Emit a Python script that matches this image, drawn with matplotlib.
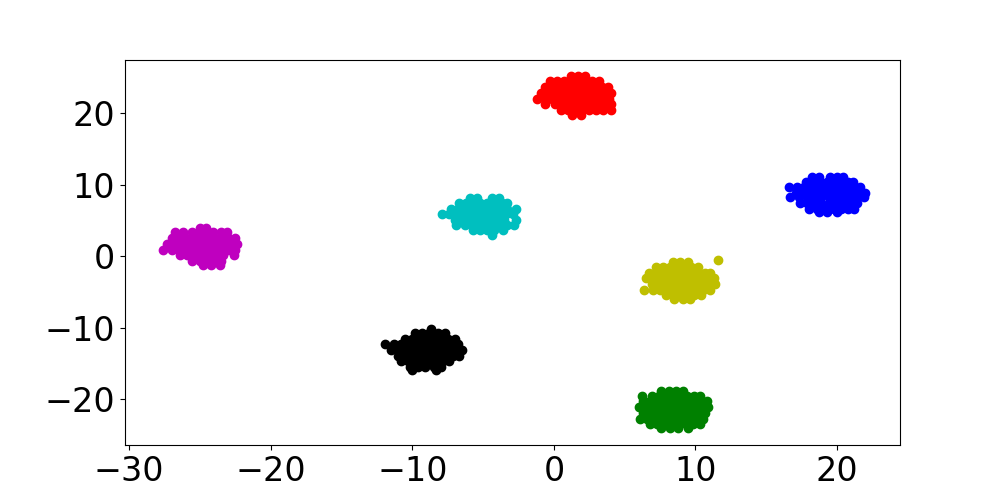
# -*- coding: utf-8 -*-
"""
seven clusters scatter
"""
import matplotlib
matplotlib.use('Agg')
import matplotlib.pyplot as plt

#====================================================
#        cluster points, read off as rows (y, [x...])
#====================================================
red_rows = [(25.1, [1.2, 1.7, 2.2]),
            (24.4, [-0.3, 0.2, 0.7, 1.2, 1.7, 2.2, 2.7, 3.2]),
            (23.6, [-0.6, -0.1, 0.4, 0.9, 1.4, 1.9, 2.4, 2.9, 3.4, 3.8]),
            (22.8, [-0.9, -0.4, 0.1, 0.6, 1.1, 1.6, 2.1, 2.6, 3.1, 3.6, 4.0]),
            (22.0, [-1.2, -0.6, -0.1, 0.4, 0.9, 1.4, 1.9, 2.4, 2.9, 3.4, 3.9]),
            (21.2, [-0.6, 0.1, 0.6, 1.1, 1.6, 2.1, 2.6, 3.1, 3.6, 4.0]),
            (20.4, [0.5, 1.0, 1.5, 2.0, 2.5, 3.0, 3.5, 4.0]),
            (19.7, [1.3, 1.9])]

blue_rows = [(11.1, [18.2, 18.7, 19.5, 20.0, 20.4]),
             (10.4, [17.8, 18.3, 18.8, 19.3, 19.8, 20.3, 20.8, 21.1]),
             (9.6, [16.6, 17.2, 17.7, 18.2, 18.7, 19.2, 19.7, 20.2, 20.7, 21.2, 21.6]),
             (8.8, [17.1, 17.6, 18.1, 18.6, 19.1, 19.6, 20.1, 20.6, 21.1, 21.6, 22.0]),
             (8.2, [16.7, 17.3, 17.9, 18.4, 18.9, 19.4, 19.9, 20.4, 20.9, 21.4, 21.9]),
             (7.4, [17.4, 17.9, 18.4, 18.9, 19.4, 19.9, 20.4, 20.9, 21.4]),
             (6.6, [18.0, 18.6, 19.2, 19.8, 20.3, 20.8, 21.2]),
             (6.2, [18.7, 19.3, 20.0])]

cyan_rows = [(8.1, [-5.9, -5.4, -4.4, -3.9]),
             (7.4, [-6.7, -6.2, -5.7, -5.2, -4.7, -4.2, -3.7, -3.3]),
             (6.6, [-7.3, -6.8, -6.3, -5.8, -5.3, -4.8, -4.3, -3.8, -3.3, -2.7]),
             (5.9, [-7.9, -7.4, -6.9, -6.4, -5.9, -5.4, -4.9, -4.4, -3.9, -3.4, -2.9]),
             (5.1, [-7.0, -6.5, -6.0, -5.5, -5.0, -4.5, -4.0, -3.5, -2.7]),
             (4.3, [-6.9, -6.3, -5.8, -5.3, -4.8, -4.3, -3.8, -3.3, -2.8]),
             (3.6, [-5.7, -5.2, -4.7, -4.2, -3.6]),
             (2.9, [-4.4])]

magenta_rows = [(3.9, [-25.0, -24.6]),
                (3.3, [-26.8, -26.2, -25.6, -25.1, -24.6, -24.1, -23.5, -23.1]),
                (2.5, [-27.0, -26.5, -26.0, -25.5, -25.0, -24.5, -24.0, -23.5, -23.0, -22.5]),
                (1.7, [-27.3, -26.8, -26.3, -25.8, -25.3, -24.8, -24.3, -23.8, -23.3, -22.8, -22.4]),
                (0.9, [-27.6, -27.0, -26.5, -26.0, -25.5, -25.0, -24.5, -24.0, -23.5, -23.0, -22.5]),
                (0.1, [-26.4, -25.9, -25.4, -24.9, -24.4, -23.9, -23.4, -22.6]),
                (-0.7, [-25.6, -25.0, -24.5, -24.0, -23.5]),
                (-1.3, [-24.8, -24.2, -23.6])]

yellow_rows = [(-0.8, [8.4, 8.9, 9.5]),
               (-0.6, [11.6]),
               (-1.5, [7.2, 7.7, 8.2, 8.7, 9.2, 9.7, 10.2]),
               (-2.3, [6.7, 7.2, 7.7, 8.2, 8.7, 9.2, 9.7, 10.2, 10.7, 11.0]),
               (-3.1, [6.5, 7.0, 7.5, 8.0, 8.5, 9.0, 9.5, 10.0, 10.5, 11.0, 11.3]),
               (-3.9, [6.9, 7.4, 7.9, 8.4, 8.9, 9.4, 9.9, 10.4, 10.9, 11.4]),
               (-4.7, [6.4, 7.0, 7.5, 8.0, 8.5, 9.0, 9.5, 10.0, 10.5, 11.0]),
               (-5.4, [7.9, 8.4, 8.9, 9.4, 9.9, 10.4]),
               (-6.0, [8.5, 9.1, 9.6])]

black_rows = [(-10.2, [-8.7]),
              (-10.8, [-9.8, -9.3, -8.8, -8.2, -7.7]),
              (-11.6, [-10.5, -10.0, -9.5, -9.0, -8.5, -8.0, -7.5, -7.0]),
              (-12.3, [-11.9, -11.3, -10.8, -10.3, -9.8, -9.3, -8.8, -8.3, -7.8, -7.3, -6.8]),
              (-13.1, [-11.5, -11.0, -10.5, -10.0, -9.5, -9.0, -8.5, -8.0, -7.5, -7.0, -6.5]),
              (-13.9, [-11.0, -10.6, -10.1, -9.6, -9.1, -8.6, -8.1, -7.6, -7.1, -6.7]),
              (-14.7, [-10.8, -10.3, -9.8, -9.3, -8.8, -8.3, -7.8, -7.4]),
              (-15.5, [-10.2, -9.6, -9.1, -8.5, -8.0]),
              (-15.9, [-10.0, -8.3])]

green_rows = [(-18.8, [7.6, 8.1, 8.6, 9.1]),
              (-19.5, [6.2, 6.9, 7.4, 7.9, 8.4, 8.9, 9.4, 9.9, 10.3]),
              (-20.3, [6.3, 6.8, 7.3, 7.8, 8.3, 8.8, 9.3, 9.8, 10.3, 10.8]),
              (-21.1, [6.0, 6.5, 7.0, 7.5, 8.0, 8.5, 9.0, 9.5, 10.0, 10.5, 10.9]),
              (-21.9, [6.3, 6.8, 7.3, 7.8, 8.3, 8.8, 9.3, 9.8, 10.3, 10.7]),
              (-22.7, [6.1, 6.6, 7.1, 7.6, 8.1, 8.6, 9.1, 9.6, 10.1, 10.5]),
              (-23.4, [6.8, 7.3, 7.8, 8.3, 8.8, 9.3, 9.8, 10.3]),
              (-24.0, [7.6, 8.2, 8.8, 9.5])]

clusters = [(red_rows, 'r'), (blue_rows, 'b'), (cyan_rows, 'c'),
            (magenta_rows, 'm'), (yellow_rows, 'y'), (black_rows, 'k'),
            (green_rows, 'g')]

#====================================================
#                       Plotting
#====================================================
plt.figure(figsize=(10, 5), dpi=100)
for rows, col in clusters:
    xs = [x for y, row in rows for x in row]
    ys = [y for y, row in rows for x in row]
    plt.scatter(xs, ys, c=col)

plt.xlim(-30.3, 24.45)
plt.ylim(-26.4, 27.4)
plt.xticks(fontsize=24)
plt.yticks(fontsize=24)

plt.savefig('out.png')
